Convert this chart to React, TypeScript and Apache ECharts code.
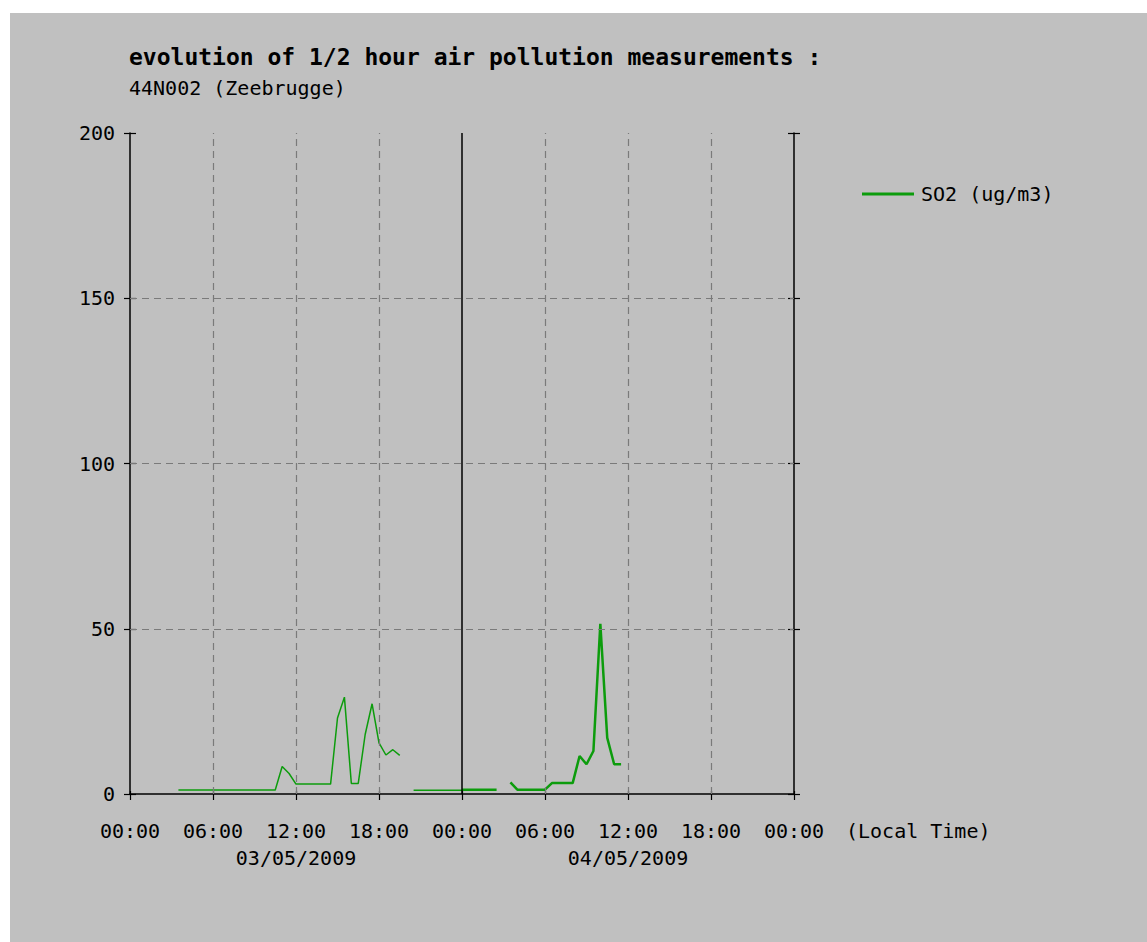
import React, { useEffect, useRef } from 'react';
import * as echarts from 'echarts';

// ---------- data ----------
const titleText = 'evolution of 1/2 hour air pollution measurements :';
const subtitleText = '44N002 (Zeebrugge)';
const seriesName = 'SO2 (ug/m3)';
const xAxisNote = '(Local Time)';

// x tick labels every 6 hours, from 03/05/2009 00:00 to 05/05/2009 00:00
const xTickLabels = ['00:00', '06:00', '12:00', '18:00', '00:00', '06:00', '12:00', '18:00', '00:00'];
const dateLabels = ['03/05/2009', '04/05/2009'];
const dateLabelHours = [12, 36];

// hours since 03/05/2009 00:00 ; null = no measurement (gap)
const day1Hours = [3.5, 10.5, 11, 11.5, 12, 14.5, 15, 15.5, 16, 16.5, 17, 17.5, 18, 18.5, 19, 19.5, 20, 20.5, 24];
const day1Values = [1.2, 1.2, 8.3, 6.2, 3.0, 3.0, 23, 29.3, 3.2, 3.2, 18, 27.3, 15.5, 11.8, 13.4, 11.7, null, 1.1, 1.1];

const day2Hours = [24, 26.5, 27, 27.5, 28, 30, 30.5, 32, 32.5, 33, 33.5, 34, 34.5, 35, 35.5];
const day2Values = [1.3, 1.3, null, 3.5, 1.3, 1.3, 3.3, 3.3, 11.5, 9, 13, 51.5, 17, 9, 9];

// reference lines
const gridHours = [6, 12, 18, 30, 36, 42];
const dayBoundaryHours = [24];
const gridValues = [50, 100, 150];

// ---------- styling ----------
const FONT = '"DejaVu Sans Mono", monospace';
const GREEN = '#0c9c0c';
const GRID_GRAY = '#7a7a7a';

const toPairs = (hs: number[], vs: (number | null)[]) =>
  hs.map((h, i) => [h, vs[i] === null ? '-' : vs[i]]);

const xLabelFormatter = (v: number) => {
  let s = xTickLabels[Math.round(v / 6)] ?? '';
  const d = dateLabelHours.indexOf(v);
  if (d >= 0) s += '\n' + dateLabels[d];
  return s;
};

const dashed = { type: [7, 5] as any, color: GRID_GRAY, width: 1.2 };
const solid = { type: 'solid' as any, color: '#000', width: 1.5 };

export default function App() {
  const ref = useRef<HTMLDivElement>(null);

  useEffect(() => {
    if (!ref.current) return;
    const chart = echarts.init(ref.current, undefined, { renderer: 'svg' });

    const yBase = {
      type: 'value' as const,
      min: 0,
      max: 200,
      interval: 50,
      splitLine: { show: false },
    };
    const xBase = {
      type: 'value' as const,
      min: 0,
      max: 48,
      interval: 6,
      splitLine: { show: false },
    };

    chart.setOption({
      animation: false,
      backgroundColor: 'transparent',
      title: {
        left: 129,
        top: 44,
        padding: 0,
        itemGap: 6,
        text: titleText,
        subtext: subtitleText,
        textStyle: { fontFamily: FONT, fontSize: 23, fontWeight: 'bold', color: '#000', lineHeight: 26 },
        subtextStyle: { fontFamily: FONT, fontSize: 20, color: '#000', lineHeight: 24 },
      },
      legend: {
        left: 862,
        top: 184,
        padding: 0,
        itemWidth: 52,
        itemHeight: 3,
        selectedMode: false,
        data: [{ name: seriesName, icon: 'rect' }],
        textStyle: { fontFamily: FONT, fontSize: 20, color: '#000', lineHeight: 20, padding: [0, 0, 0, 2] },
      },
      grid: { left: 130, top: 133, width: 664, height: 661, containLabel: false },
      xAxis: [
        {
          ...xBase,
          position: 'bottom',
          axisLine: { show: true, onZero: false, lineStyle: { color: '#000', width: 1.5 } },
          axisTick: { show: true, length: 6, lineStyle: { color: '#000', width: 1.2 } },
          axisLabel: {
            show: true,
            margin: 23,
            fontFamily: FONT,
            fontSize: 20,
            color: '#000',
            lineHeight: 27,
            formatter: xLabelFormatter,
          },
        },
        {
          ...xBase,
          position: 'bottom',
          axisLine: { show: false, onZero: false },
          axisTick: { show: true, inside: true, length: 3, lineStyle: { color: '#000', width: 1.2 } },
          axisLabel: { show: false },
        },
      ],
      yAxis: [
        {
          ...yBase,
          position: 'left',
          axisLine: { show: true, onZero: false, lineStyle: { color: '#000', width: 1.5 } },
          axisTick: { show: true, length: 6, lineStyle: { color: '#000', width: 1.2 } },
          axisLabel: { show: true, margin: 15, fontFamily: FONT, fontSize: 20, color: '#000' },
        },
        {
          ...yBase,
          position: 'left',
          axisLine: { show: false, onZero: false },
          axisTick: { show: true, inside: true, length: 6, lineStyle: { color: '#000', width: 1.2 } },
          axisLabel: { show: false },
        },
        {
          ...yBase,
          position: 'right',
          axisLine: { show: true, onZero: false, lineStyle: { color: '#000', width: 1.5 } },
          axisTick: { show: true, length: 6, lineStyle: { color: '#000', width: 1.2 } },
          axisLabel: { show: false },
        },
        {
          ...yBase,
          position: 'right',
          axisLine: { show: false, onZero: false },
          axisTick: { show: true, inside: true, length: 6, lineStyle: { color: '#000', width: 1.2 } },
          axisLabel: { show: false },
        },
      ],
      graphic: [
        {
          type: 'text',
          x: 846,
          y: 794 + 23 + 13.5,
          silent: true,
          style: {
            text: xAxisNote,
            fontFamily: FONT,
            fontSize: 20,
            fill: '#000',
            align: 'left',
            verticalAlign: 'middle',
          },
        },
      ],
      series: [
        {
          type: 'line',
          name: 'reference lines',
          data: [],
          silent: true,
          z: 1,
          markLine: {
            silent: true,
            symbol: ['none', 'none'],
            label: { show: false },
            emphasis: { disabled: true },
            data: [
              ...gridValues.map((v) => ({ yAxis: v, lineStyle: dashed })),
              ...gridHours.map((h) => ({ xAxis: h, lineStyle: dashed })),
              ...dayBoundaryHours.map((h) => ({ xAxis: h, lineStyle: solid })),
            ],
          },
        },
        {
          type: 'line',
          name: seriesName,
          data: toPairs(day1Hours, day1Values),
          symbol: 'none',
          showSymbol: false,
          connectNulls: false,
          z: 3,
          lineStyle: { color: GREEN, width: 1.5 },
          itemStyle: { color: GREEN },
        },
        {
          type: 'line',
          name: seriesName,
          data: toPairs(day2Hours, day2Values),
          symbol: 'none',
          showSymbol: false,
          connectNulls: false,
          z: 3,
          lineStyle: { color: GREEN, width: 2.5 },
          itemStyle: { color: GREEN },
        },
      ],
    });

    return () => chart.dispose();
  }, []);

  return (
    <div style={{ position: 'absolute', left: 0, top: 0, width: 1147, height: 942, background: '#ffffff', overflow: 'hidden' }}>
      <div style={{ position: 'absolute', left: 10, top: 13, width: 1137, height: 929, background: '#c0c0c0' }} />
      <div ref={ref} style={{ position: 'absolute', left: 0, top: 0, width: 1147, height: 942 }} />
    </div>
  );
}
